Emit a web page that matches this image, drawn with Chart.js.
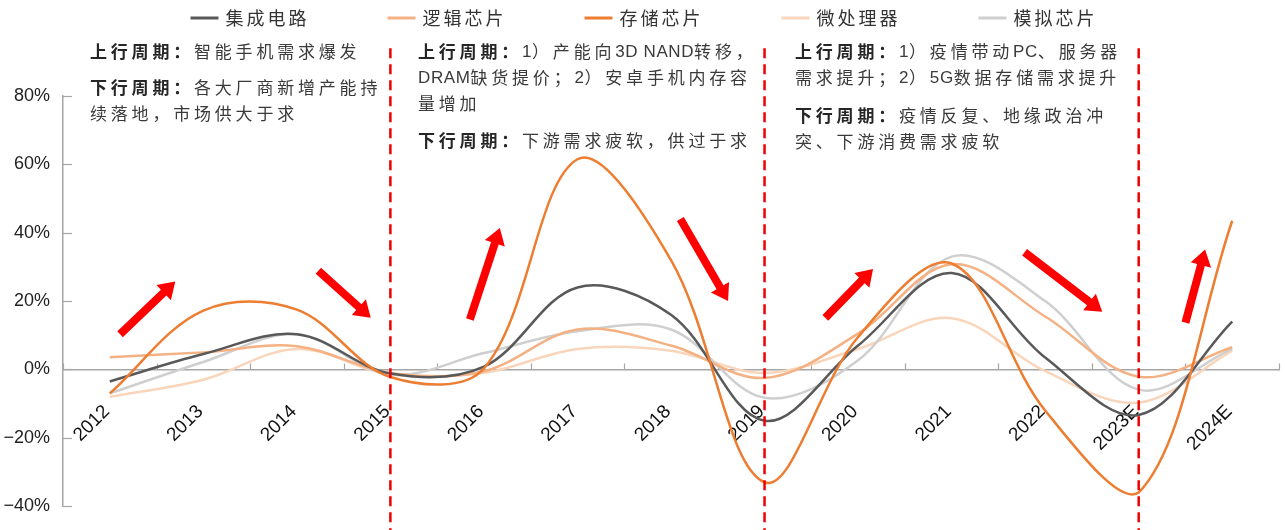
<!DOCTYPE html>
<html><head><meta charset="utf-8">
<script src="https://cdn.jsdelivr.net/npm/chart.js@4.4.1/dist/chart.umd.min.js"></script>
<style>html,body{margin:0;padding:0;background:#fff;overflow:hidden}</style>
</head><body>
<canvas id="c" width="1285" height="530"></canvas>
<script>
// ---------- data ----------
const categories = ['2012','2013','2014','2015','2016','2017','2018','2019','2020','2021','2022','2023E','2024E'];
const seriesNames = ['集成电路','逻辑芯片','存储芯片','微处理器','模拟芯片'];
const icValues      = [-3.5, 4.5, 10.3, -1.2,  0.8, 24.0, 16.0, -15.0,  7.0, 28.2,   3.5, -13.3, 14.0];
const logicValues   = [ 3.6, 5.0,  6.8, -1.0, -0.5, 11.7,  7.0,  -2.5, 10.5, 30.8,  15.5,  -2.1,  6.5];
const memoryValues  = [-7.0,17.2, 17.5, -2.2,  0.3, 61.5, 32.0, -33.0,  9.5, 31.0, -12.0, -36.0, 43.5];
const microValues   = [-8.0,-3.0,  6.0, -1.5, -1.0,  6.0,  5.5,  -1.0,  6.0, 15.0,  -0.5,  -9.7,  5.5];
const analogValues  = [-7.0, 2.2, 10.3, -1.5,  4.8, 11.2, 11.7,  -8.3,  2.7, 33.0,  20.0,  -5.9,  6.0];
const yTickValues = [-40,-20,0,20,40,60,80];
const cycleTurns = ['2015','2019','2023E'];
// arrows in data space: [categoryIndex, value]
const arrowFrom = [[0.11,10.3],[2.23,28.9],[3.85,14.6],[6.10,44.0],[7.65,15.1],[9.78,34.3],[11.50,13.7]];
const arrowTo   = [[0.70,25.7],[2.79,15.1],[4.17,41.4],[6.61,20.0],[8.16,29.4],[10.61,16.9],[11.71,35.1]];
// annotation text blocks
const noteBlocks = [
  {x:90, lines:[
    {y:52, segs:[['上行周期：',1],['智能手机需求爆发',0]]},
    {y:88, segs:[['下行周期：',1],['各大厂商新增产能持',0]]},
    {y:114, segs:[['续落地，市场供大于求',0]]}]},
  {x:418, lines:[
    {y:52, segs:[['上行周期：',1],['1）产能向3D NAND转移，',0]]},
    {y:78, segs:[['DRAM缺货提价；2）安卓手机内存容',0]]},
    {y:104, segs:[['量增加',0]]},
    {y:141, segs:[['下行周期：',1],['下游需求疲软，供过于求',0]]}]},
  {x:795, lines:[
    {y:52, segs:[['上行周期：',1],['1）疫情带动PC、服务器',0]]},
    {y:78, segs:[['需求提升；2）5G数据存储需求提升',0]]},
    {y:116, segs:[['下行周期：',1],['疫情反复、地缘政治冲',0]]},
    {y:142, segs:[['突、下游消费需求疲软',0]]}]}
];
const seriesColors = ['#595959','#F4B183','#ED7D31','#F9D5BC','#CFCFCF'];
const seriesOrder  = [1,2,0,4,3];
const seriesValues = [icValues, logicValues, memoryValues, microValues, analogValues];
const axisColor = '#A6A6A6';

// ---------- helpers ----------
function drawRich(ctx, str, x, y, size, spacing, bold, color){
  ctx.fillStyle = color;
  for (const ch of str){
    const cjk = /[\u2E80-\uFFFF]/.test(ch);
    ctx.font = (bold?'bold ':'') + size + 'px ' + (cjk ? '"Noto Sans CJK SC"' : '"Liberation Sans Narrow","Liberation Sans",sans-serif');
    ctx.fillText(ch, x, y);
    x += ctx.measureText(ch).width + (cjk ? spacing : 0.6);
  }
  return x;
}
function blockArrow(ctx,x1,y1,x2,y2,sw,hw,hl){
  const dx=x2-x1, dy=y2-y1, len=Math.hypot(dx,dy), ux=dx/len, uy=dy/len, nx=-uy, ny=ux;
  const bx=x2-ux*hl, by=y2-uy*hl;
  ctx.beginPath();
  ctx.moveTo(x1+nx*sw/2,y1+ny*sw/2);
  ctx.lineTo(bx+nx*sw/2,by+ny*sw/2);
  ctx.lineTo(bx+nx*hw/2,by+ny*hw/2);
  ctx.lineTo(x2,y2);
  ctx.lineTo(bx-nx*hw/2,by-ny*hw/2);
  ctx.lineTo(bx-nx*sw/2,by-ny*sw/2);
  ctx.lineTo(x1-nx*sw/2,y1-ny*sw/2);
  ctx.closePath(); ctx.fill();
}

const decor = {
  id:'decor',
  beforeDatasetsDraw(chart){
    const {ctx, scales:{x,y}, chartArea} = chart;
    ctx.save();
    ctx.strokeStyle = axisColor; ctx.lineWidth = 1.2;
    yTickValues.forEach(v=>{
      const py = Math.round(y.getPixelForValue(v))+0.5;
      ctx.beginPath(); ctx.moveTo(chartArea.left, py); ctx.lineTo(chartArea.left+9, py); ctx.stroke();
    });
    const y0 = y.getPixelForValue(0);
    for (let i=0;i<=categories.length;i++){
      const px = Math.round(x.getPixelForValue(i-0.5))+0.5;
      ctx.beginPath(); ctx.moveTo(px, y0); ctx.lineTo(px, y0-6); ctx.stroke();
    }
    ctx.textBaseline = 'middle'; ctx.textAlign = 'left';
    noteBlocks.forEach(b=>{
      b.lines.forEach(l=>{
        let cx = b.x;
        l.segs.forEach(s=>{ cx = drawRich(ctx, s[0], cx, l.y, 17, 3.8, s[1]===1, s[1]===1?'#262626':'#3a3a3a'); });
      });
    });
    ctx.restore();
  },
  afterDatasetsDraw(chart){
    const {ctx, scales:{x,y}} = chart;
    ctx.save();
    ctx.strokeStyle = '#F00000'; ctx.lineWidth = 2.5; ctx.setLineDash([10,6]);
    cycleTurns.forEach(c=>{
      const px = x.getPixelForValue(categories.indexOf(c));
      ctx.beginPath(); ctx.moveTo(px, y.getPixelForValue(94)); ctx.lineTo(px, chart.height); ctx.stroke();
    });
    ctx.setLineDash([]);
    ctx.fillStyle = '#FF0000';
    arrowFrom.forEach((f,i)=>{
      const t = arrowTo[i];
      blockArrow(ctx, x.getPixelForValue(f[0]), y.getPixelForValue(f[1]), x.getPixelForValue(t[0]), y.getPixelForValue(t[1]), 8, 21, 16);
    });
    ctx.restore();
  },
  afterDraw(chart){
    const {ctx} = chart;
    ctx.save();
    ctx.font = '18px "Noto Sans CJK SC"';
    ctx.textBaseline = 'middle'; ctx.textAlign = 'left';
    const pitch = 197, sw = 28, gap = 7, ly = 18;
    const widths = seriesNames.map(n => sw + gap + ctx.measureText(n).width + 3*3);
    const total = pitch*(seriesNames.length-1) + widths[widths.length-1];
    let x0 = chart.width/2 - total/2;
    seriesNames.forEach((n,i)=>{
      const sx = x0 + pitch*i;
      ctx.strokeStyle = seriesColors[i]; ctx.lineWidth = 3;
      ctx.beginPath(); ctx.moveTo(sx, ly); ctx.lineTo(sx+sw, ly); ctx.stroke();
      let tx = sx + sw + gap;
      ctx.fillStyle = '#333';
      for (const ch of n){ ctx.fillText(ch, tx, ly); tx += ctx.measureText(ch).width + 3; }
    });
    ctx.restore();
  }
};

new Chart(document.getElementById('c'), {
  type:'line',
  data:{
    labels: categories,
    datasets: seriesNames.map((n,i)=>({
      label:n, data:seriesValues[i], borderColor:seriesColors[i], backgroundColor:seriesColors[i],
      borderWidth:2.5, pointRadius:0, tension:0.35, fill:false, order:seriesOrder[i]
    }))
  },
  options:{
    responsive:false, animation:false, devicePixelRatio:1,
    layout:{padding:{top:96,bottom:14,left:0,right:6}},
    plugins:{legend:{display:false}, tooltip:{enabled:false}},
    scales:{
      x:{
        axis:'x', type:'category', position:{y:0}, offset:true,
        grid:{display:false, drawTicks:false},
        border:{display:true, color:axisColor, width:1.5},
        ticks:{minRotation:45, maxRotation:45, autoSkip:false, padding:31, labelOffset:-3, color:'#111',
               font:{family:'"Liberation Sans", Arial, sans-serif', size:19}}
      },
      y:{
        min:-40, max:80,
        afterFit(s){ s.width = 63; },
        afterBuildTicks(s){ s.ticks = yTickValues.map(v=>({value:v})); },
        grid:{display:false, drawTicks:false},
        border:{display:true, color:axisColor, width:1.5},
        ticks:{padding:13, color:'#222', font:{family:'"Liberation Sans", Arial, sans-serif', size:18},
               callback:(v)=> (v<0?'−':'') + Math.abs(v) + '%'}
      }
    }
  },
  plugins:[decor]
});
</script>
</body></html>
